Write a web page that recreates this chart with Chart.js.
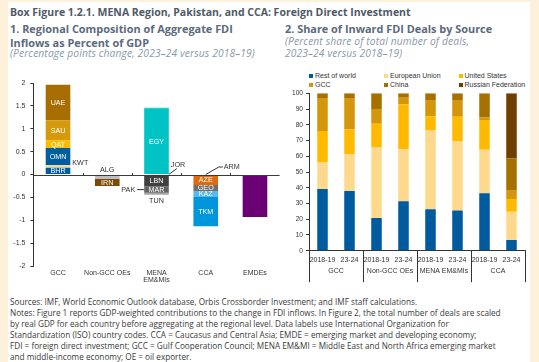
<!DOCTYPE html>
<html><head><meta charset="utf-8">
<script src="https://cdn.jsdelivr.net/npm/chart.js@4.4.1/dist/chart.umd.min.js"></script>
<style>
html,body{margin:0;padding:0;}
body{width:539px;height:362px;background:#FEF1DC;position:relative;overflow:hidden;font-family:"Open Sans",sans-serif;}
#panel{position:absolute;left:8px;top:2px;width:522px;height:362px;background:#fff;}
.t{position:absolute;white-space:nowrap;}
#title{left:10px;top:6px;font-size:10.5px;font-weight:700;color:#4E5A67;line-height:13px;}
.sub{font-size:10.9px;font-weight:700;color:#5B6A7C;line-height:14px;}
.it{font-style:italic;font-size:10.2px;color:#8A98AA;line-height:11.5px;letter-spacing:0.15px;}
#notes{left:10px;top:297px;font-size:8.2px;color:#3A3A3A;line-height:10.9px;}
.lg{position:absolute;font-family:"Liberation Sans",Arial,sans-serif;font-size:7px;color:#333;white-space:nowrap;line-height:9px;}
.lg i{position:absolute;left:-6px;top:2.5px;width:4px;height:4px;}
canvas{position:absolute;}
</style></head>
<body>
<div id="panel"></div>
<div class="t" id="title">Box Figure 1.2.1. MENA Region, Pakistan, and CCA: Foreign Direct Investment</div>
<div class="t sub" style="left:10px;top:22px;">1. Regional Composition of Aggregate FDI<br>Inflows as Percent of GDP</div>
<div class="t it" style="left:10px;top:48px;">(Percentage points change, 2023–24 versus 2018–19)</div>
<div class="t sub" style="left:285px;top:22px;">2. Share of Inward FDI Deals by Source</div>
<div class="t it" style="left:285px;top:36px;">(Percent share of total number of deals,<br>2023–24 versus 2018–19)</div>
<div id="legend"></div>
<canvas id="c1" width="282" height="222" style="left:0;top:70px;"></canvas>
<canvas id="c2" width="250" height="202" style="left:282px;top:86px;"></canvas>
<div class="t" id="notes">Sources: IMF, World Economic Outlook database, Orbis Crossborder Investment; and IMF staff calculations.<br>Notes: Figure 1 reports GDP-weighted contributions to the change in FDI inflows. In Figure 2, the total number of deals are scaled<br>by real GDP for each country before aggregating at the regional level. Data labels use International Organization for<br>Standardization (ISO) country codes. CCA = Caucasus and Central Asia; EMDE = emerging market and developing economy;<br>FDI = foreign direct investment; GCC = Gulf Cooperation Council; MENA EM&amp;MI = Middle East and North Africa emerging market<br>and middle-income economy; OE = oil exporter.</div>
<script>
// ---------- Figure 1 data ----------
const regions = ["GCC", "Non-GCC OEs", ["MENA", "EM&MIs"], "CCA", "EMDEs"];
const yTicks1 = [2, 1.5, 1, 0.5, 0, -0.5, -1, -1.5, -2];
const segCodes  = ["BHR","KWT","OMN","QAT","SAU","UAE","ALG","IRN","EGY","JOR","LBN","PAK","MAR","TUN","ARM","AZE","GEO","KAZ","TKM","EMDEs"];
const segRegion = [0,0,0,0,0,0,1,1,2,2,2,2,2,2,3,3,3,3,3,4];
const segValues = [0.15,0.05,0.38,0.17,0.43,0.78,-0.10,-0.15,1.45,0.01,-0.26,-0.01,-0.13,-0.04,0.01,-0.23,-0.13,-0.13,-0.64,-0.93];

// ---------- Figure 2 data ----------
const periods = ["2018-19","23-24","2018-19","23-24","2018-19","23-24","2018-19","23-24"];
const groups = ["GCC","Non-GCC OEs","MENA EM&MIs","CCA"];
const yTicks2 = [0,10,20,30,40,50,60,70,80,90,100];
const restOfWorld    = [39.2, 37.9, 20.8, 31.4, 26.3, 25.6, 36.5, 6.8];
const europeanUnion  = [17.2, 23.3, 45.1, 33.0, 50.4, 44.1, 27.7, 18.0];
const unitedStates   = [19.6, 15.9, 14.8, 28.6, 8.7, 15.4, 18.8, 8.0];
const gccSource      = [21.0, 19.9, 9.3, 4.6, 10.3, 10.6, 1.7, 5.8];
const china          = [3.0, 3.0, 10.0, 2.4, 4.3, 4.3, 15.3, 19.9];
const russia         = [0, 0, 0, 0, 0, 0, 0, 41.5];
const sourceNames = ["Rest of world","European Union","United States","GCC","China","Russian Federation"];

// ---------- styles ----------
const segColors = {BHR:"#005DA0",KWT:"#FFD98C",OMN:"#005DA0",QAT:"#FFB900",SAU:"#D59A0C",UAE:"#A66D00",
  ALG:"#BFBFBF",IRN:"#7A4A06",EGY:"#00C3C6",JOR:"#00C3C6",LBN:"#404040",PAK:"#595959",MAR:"#646464",TUN:"#A6A6A6",
  ARM:"#E06A0C",AZE:"#E06A0C",GEO:"#6E6E6E",KAZ:"#56B8EC",TKM:"#0096DB",EMDEs:"#6B0075"};
const inside = new Set(["BHR","OMN","QAT","SAU","UAE","IRN","EGY","LBN","MAR","AZE","GEO","KAZ","TKM"]);
const srcColors = ["#005A9E","#FFD98B","#FFBA00","#D4970B","#A67000","#6F3F00"];
const F = "'Liberation Sans', Arial, sans-serif";

// legend (HTML)
const legendPos = [[315,71],[390,71],[464.5,71],[315,80],[390,80],[464.5,80]];
const lg = document.getElementById('legend');
sourceNames.forEach((n,i)=>{
  const d=document.createElement('div'); d.className='lg';
  d.style.left=legendPos[i][0]+'px'; d.style.top=legendPos[i][1]+'px';
  d.innerHTML='<i style="background:'+srcColors[i]+'"></i>'+n; lg.appendChild(d);
});

// ---------- chart 1 ----------
const labelPlugin = {
  id:'lbl1',
  afterDatasetsDraw(chart){
    const ctx=chart.ctx, ys=chart.scales.y, xs=chart.scales.x, ca=chart.chartArea;
    const y0=ys.getPixelForValue(0);
    ctx.save();
    ctx.strokeStyle='#3A3A3A'; ctx.lineWidth=1;
    ctx.beginPath(); ctx.moveTo(ca.left,Math.round(y0)+0.5); ctx.lineTo(ca.right,Math.round(y0)+0.5); ctx.stroke();
    for(let i=1;i<regions.length;i++){
      const x=Math.round((xs.getPixelForValue(i-1)+xs.getPixelForValue(i))/2)+0.5;
      ctx.beginPath(); ctx.moveTo(x,Math.round(y0)); ctx.lineTo(x,Math.round(y0)-2); ctx.stroke();
    }
    ctx.font='7.2px '+F; ctx.textBaseline='middle';
    segCodes.forEach((code,d)=>{
      const el=chart.getDatasetMeta(d).data[segRegion[d]];
      if(!el) return;
      const cy=(el.y+el.base)/2, left=el.x-el.width/2, right=el.x+el.width/2;
      const bottom=Math.max(el.y,el.base);
      if(inside.has(code)){
        ctx.fillStyle='#fff'; ctx.textAlign='center'; ctx.fillText(code,el.x,cy+0.5);
        return;
      }
      ctx.fillStyle='#333'; ctx.strokeStyle='#333';
      if(code==='KWT'){ctx.textAlign='left'; ctx.fillText(code,right+2,cy-3.5);}
      else if(code==='ALG'){ctx.textAlign='center'; ctx.fillText(code,el.x,y0-4);}
      else if(code==='TUN'){ctx.textAlign='center'; ctx.fillText(code,el.x,bottom+6.5);}
      else if(code==='PAK'){ctx.textAlign='right'; ctx.fillText(code,left-9,cy+3);
        ctx.beginPath(); ctx.moveTo(left-7,cy+3); ctx.lineTo(left,cy+3); ctx.stroke();}
      else if(code==='JOR'){ctx.textAlign='left'; ctx.fillText(code,right+2,y0-9.5);
        ctx.beginPath(); ctx.moveTo(right,y0); ctx.lineTo(right+8,y0-6); ctx.stroke();}
      else if(code==='ARM'){ctx.textAlign='left'; ctx.fillText(code,el.x+18,y0-7);
        ctx.beginPath(); ctx.moveTo(el.x,y0); ctx.lineTo(el.x+13,y0-7.5); ctx.lineTo(el.x+17,y0-7.5); ctx.stroke();}
    });
    ctx.restore();
  }
};

new Chart(document.getElementById('c1'),{
  type:'bar',
  data:{labels:regions,datasets:segCodes.map((code,i)=>({
    label:code,
    data:regions.map((_,r)=>r===segRegion[i]?segValues[i]:null),
    backgroundColor:segColors[code], borderWidth:0,
    barPercentage:0.5, categoryPercentage:1
  }))},
  options:{
    responsive:false, animation:false, devicePixelRatio:1,
    layout:{padding:{left:0,right:2.4,top:13,bottom:0}},
    plugins:{legend:{display:false},tooltip:{enabled:false}},
    scales:{
      x:{stacked:true, grid:{display:false,drawTicks:false}, border:{display:false},
         ticks:{color:'#333',font:{family:F,size:7,lineHeight:0.95},padding:4,maxRotation:0,autoSkip:false},
         afterFit(s){s.height=26;}},
      y:{stacked:true, min:-2, max:2,
         afterBuildTicks(s){s.ticks=yTicks1.map(v=>({value:v}));},
         grid:{drawOnChartArea:false,tickLength:3,color:'#333'},
         border:{display:true,color:'#333'},
         ticks:{color:'#333',font:{family:F,size:7},padding:5,callback:v=>String(v)},
         afterFit(s){s.width=33.4;}}
    }
  },
  plugins:[labelPlugin]
});

// ---------- chart 2 ----------
const groupPlugin = {
  id:'grp2',
  afterDraw(chart){
    const ctx=chart.ctx, xs=chart.scales.x, ca=chart.chartArea;
    ctx.save(); ctx.strokeStyle='#333'; ctx.lineWidth=1;
    const step=(xs.getPixelForValue(1)-xs.getPixelForValue(0));
    for(let g=0;g<=groups.length;g++){
      const x=Math.round(xs.getPixelForValue(2*g)-step/2)+0.5;
      ctx.beginPath(); ctx.moveTo(x,ca.bottom); ctx.lineTo(x,ca.bottom+31.5); ctx.stroke();
    }
    ctx.fillStyle='#333'; ctx.font='7px '+F; ctx.textAlign='center'; ctx.textBaseline='middle';
    groups.forEach((g,i)=>{
      const x=(xs.getPixelForValue(2*i)+xs.getPixelForValue(2*i+1))/2;
      ctx.fillText(g,x,ca.bottom+20.5);
    });
    ctx.restore();
  }
};
const srcData=[restOfWorld,europeanUnion,unitedStates,gccSource,china,russia];
new Chart(document.getElementById('c2'),{
  type:'bar',
  data:{labels:periods,datasets:sourceNames.map((n,i)=>({
    label:n,data:srcData[i],backgroundColor:srcColors[i],borderWidth:0,
    barPercentage:0.39,categoryPercentage:1
  }))},
  options:{
    responsive:false, animation:false, devicePixelRatio:1,
    layout:{padding:{left:0,right:7,top:7.3,bottom:0}},
    plugins:{legend:{display:false},tooltip:{enabled:false}},
    scales:{
      x:{stacked:true, grid:{display:false,drawTicks:false}, border:{display:true,color:'#333'},
         ticks:{color:'#333',font:{family:F,size:7},padding:5,maxRotation:0,autoSkip:false},
         afterFit(s){s.height=37.3;}},
      y:{stacked:true,min:0,max:100,
         afterBuildTicks(s){s.ticks=yTicks2.map(v=>({value:v}));},
         grid:{drawOnChartArea:false,tickLength:3,color:'#333'},
         border:{display:true,color:'#333'},
         ticks:{color:'#333',font:{family:F,size:6.6},padding:3},
         afterFit(s){s.width=27;}}
    }
  },
  plugins:[groupPlugin]
});
</script>
</body></html>
